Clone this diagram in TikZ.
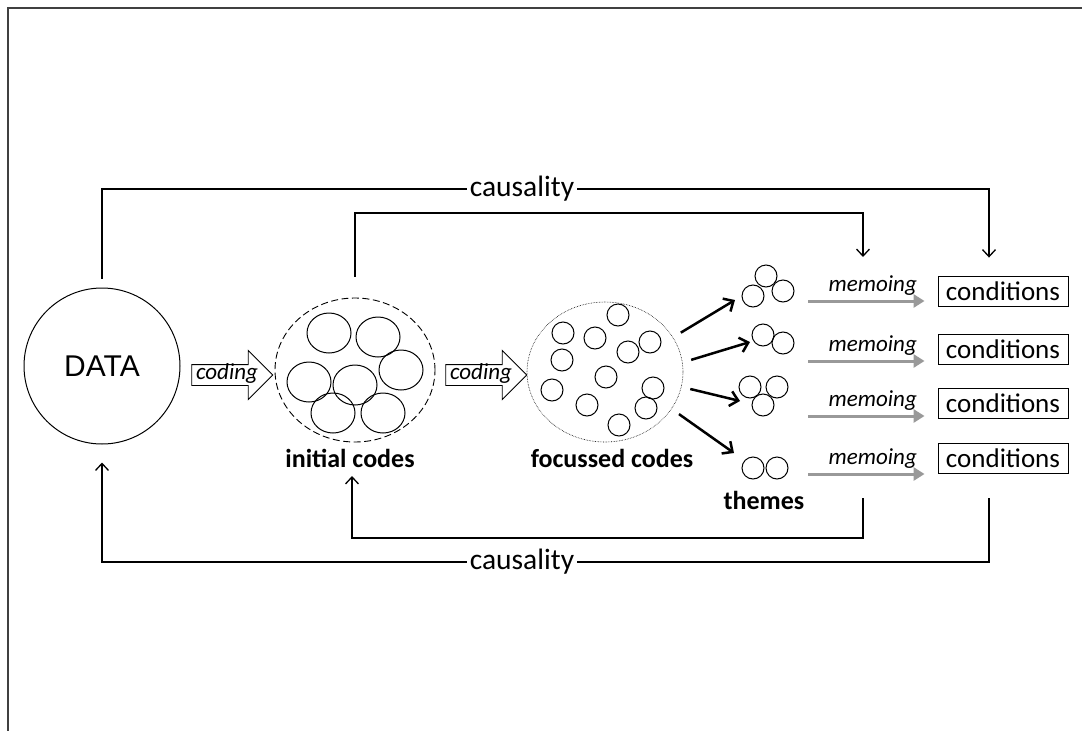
\documentclass[tikz,border=0pt]{standalone}
\usepackage{fontspec}
\setmainfont{Carlito}
\newfontfamily\datafont{Liberation Sans}
\usetikzlibrary{arrows.meta,shapes.geometric,shapes.arrows,positioning}

\tikzset{
  frame/.style={draw=black!75, line width=1.6pt},
  cause/.style={line width=1.1pt, -{Straight Barb[length=7pt,width=13pt,line width=1.3pt]}},
  causetext/.style={fill=white, inner sep=3pt, font=\fontsize{29.5}{31}\selectfont},
  fan/.style={line width=2.5pt, shorten <=9pt, -{Straight Barb[length=8pt,width=15pt]}},
  memo/.style={draw=black!40, line width=3pt, shorten >=13pt, -{Triangle[length=11pt,width=13pt]}},
  memotext/.style={inner sep=1pt, font=\itshape\fontsize{23}{25}\selectfont},
  condbox/.style={draw, line width=0.9pt, minimum width=130pt, minimum height=30pt, inner sep=0pt, font=\fontsize{27}{29}\selectfont},
  codearrow/.style={single arrow, draw, line width=0.9pt, minimum height=81pt,
    single arrow head extend=14pt, text height=12pt, text depth=3pt, inner sep=2.5pt,
    font=\itshape\fontsize{23}{25}\selectfont},
  blob/.style={line width=1pt},
  grp/.style={font=\bfseries\fontsize{26}{28}\selectfont},
}

\begin{document}
\begin{tikzpicture}[x=1pt,y=-1pt]
\useasboundingbox (0,0) rectangle (1082,731);
\draw[frame] (8,731) |- (1082,8);

% data and the two rounds of coding
\node[circle, draw, line width=1pt, minimum size=156pt, font=\datafont\fontsize{30}{32}\selectfont] (data) at (102,366) {DATA};
\node[codearrow] (cod1) at (227,375) {coding};

\node[ellipse, draw, dash pattern=on 7pt off 3.5pt, line width=0.9pt, minimum width=160pt, minimum height=144pt, inner sep=0pt] (init) at (355,370) {};
\foreach \cx/\cy in {329/333, 378/337, 401/370, 309/382, 355/385, 333/413, 383/413}
  \draw[blob] (\cx,\cy) ellipse [x radius=22pt, y radius=20pt];
\node[grp] (initlbl) at (350,458) {initial codes};

\node[codearrow] (cod2) at (481,375) {coding};

\node[ellipse, draw, densely dotted, line width=0.6pt, minimum width=156pt, minimum height=140pt, inner sep=0pt] (foc) at (605,372) {};
\foreach \cx/\cy in {618/315, 563/333, 595/338, 628/352, 650/342, 562/360, 606/377, 552/390, 653/388, 587/405, 646/408, 619/425}
  \draw[blob] (\cx,\cy) circle (11pt);
\node[grp] (foclbl) at (612,458) {focussed codes};

% themes
\foreach \cx/\cy in {766/276, 753/296, 783/291, 763/335, 783/343, 750/387, 777/387, 763/405, 753/468, 777/468}
  \draw[blob] (\cx,\cy) circle (11pt);
\node[grp] (thlbl) at (764,500) {themes};

\coordinate (t1) at (735,300);
\coordinate (t2) at (750,342);
\coordinate (t3) at (740,401);
\coordinate (t4) at (734,453);
\draw[fan] (foc.27) -- (t1);
\draw[fan] (foc.7) -- (t2);
\draw[fan] (foc.-11) -- (t3);
\draw[fan] (foc.-29) -- (t4);

% memoing into conditions
\foreach \i/\y/\my in {1/291/301, 2/349/361, 3/403/416, 4/458/474} {
  \node[condbox] (cond\i) at (1003,\y) {conditions};
  \coordinate (m\i) at (808,\my);
  \draw[memo] (m\i) -- (m\i -| cond\i.west) node[midway, above=3pt, memotext] {memoing};
}

% causality loops
\coordinate (topR) at (989,189);
\coordinate (midR) at (863,213);
\coordinate (midTip) at (863,257);
\draw[cause] ([yshift=9pt]data.north) |- (topR) -- ([yshift=18pt]cond1.north -| topR);
\node[causetext] (cz1) at (522,189) {causality};
\draw[cause] ([yshift=21pt]init.north) |- (midR) -- (midTip);

\coordinate (botI) at (863,498);
\coordinate (botO) at (989,498);
\coordinate (initTip) at (352,476);
\draw[cause] (botI) |- (352,538) -- (initTip);
\draw[cause] (botO) |- (102,562) -- ([yshift=-18pt]data.south);
\node[causetext] (cz2) at (522,562) {causality};
\end{tikzpicture}
\end{document}
